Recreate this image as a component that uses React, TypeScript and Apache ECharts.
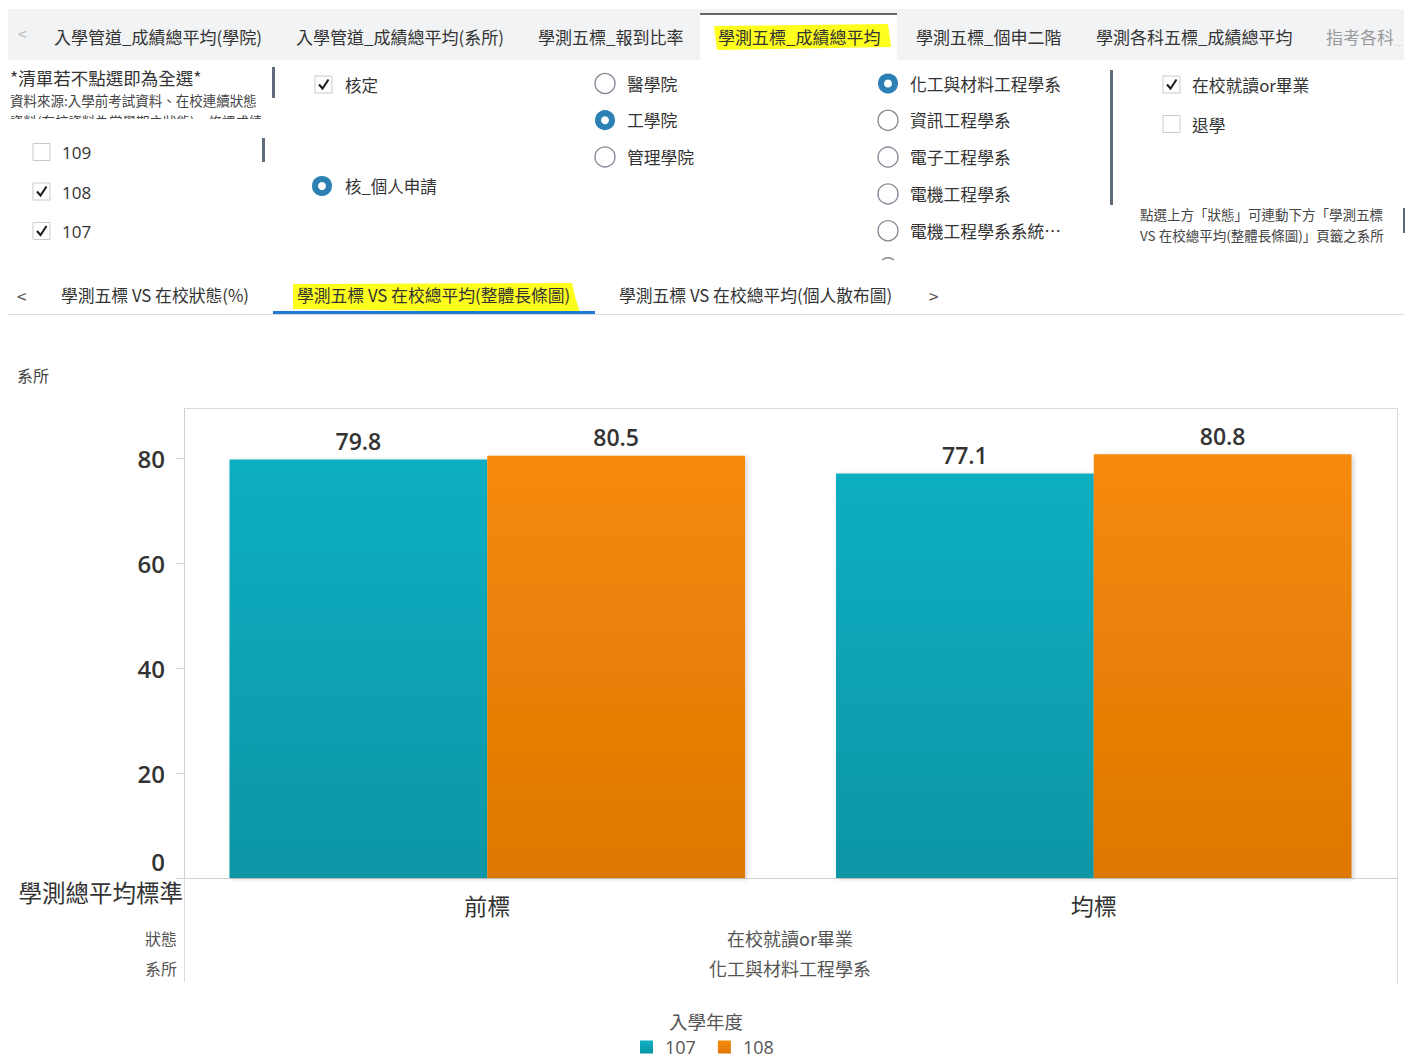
import React, { useEffect, useRef } from "react";
import * as echarts from "echarts";

// ---------- data ----------
const categories = ["前標", "均標"];
const seriesNames = ["107", "108"];
const values107 = [79.8, 77.1];
const values108 = [80.5, 80.8];
const yTicks = [0, 20, 40, 60, 80];

const topTabs = [
  "入學管道_成績總平均(學院)",
  "入學管道_成績總平均(系所)",
  "學測五標_報到比率",
  "學測五標_成績總平均",
  "學測五標_個申二階",
  "學測各科五標_成績總平均",
  "指考各科_",
];
const subTabs = [
  "學測五標 VS 在校狀態(%)",
  "學測五標 VS 在校總平均(整體長條圖)",
  "學測五標 VS 在校總平均(個人散布圖)",
];
const yearOptions = ["109", "108", "107"];
const yearChecked = [false, true, true];
const colleges = ["醫學院", "工學院", "管理學院"];
const collegeSelected = 1;
const departments = ["化工與材料工程學系", "資訊工程學系", "電子工程學系", "電機工程學系", "電機工程學系系統⋯"];
const departmentSelected = 0;
const statuses = ["在校就讀or畢業", "退學"];
const statusChecked = [true, false];
const headerRowNames = ["狀態", "系所"];
const headerRowValues = ["在校就讀or畢業", "化工與材料工程學系"];

const FONT = '"Noto Sans CJK TC", "Noto Sans", sans-serif';
const NUMFONT = '"Open Sans", "Noto Sans", sans-serif';

function txt(text: string, x: number, y: number, size: number, color: string, opts: any = {}) {
  return {
    type: "text",
    x,
    y,
    silent: true,
    z: opts.z ?? 20,
    style: {
      text,
      fontSize: size,
      fontFamily: opts.font ?? FONT,
      fontWeight: opts.weight ?? "normal",
      fill: color,
      align: opts.align ?? "left",
      verticalAlign: "middle",
    },
  };
}

function checkbox(x: number, y: number, checked: boolean) {
  const els: any[] = [
    { type: "rect", silent: true, z: 20, shape: { x, y, width: 17, height: 17 }, style: { fill: "#fff", stroke: "#C9C9C9", lineWidth: 1 } },
  ];
  if (checked) {
    els.push({
      type: "polyline",
      silent: true,
      z: 21,
      shape: { points: [[x + 4, y + 8.5], [x + 7.5, y + 12.5], [x + 13.5, y + 3.5]] },
      style: { stroke: "#1a1a1a", lineWidth: 2, fill: null },
    });
  }
  return els;
}

function radio(cx: number, cy: number, selected: boolean) {
  if (selected) {
    return [{ type: "circle", silent: true, z: 20, shape: { cx, cy, r: 7 }, style: { fill: "#fff", stroke: "#2C80B4", lineWidth: 6 } }];
  }
  return [{ type: "circle", silent: true, z: 20, shape: { cx, cy, r: 10 }, style: { fill: "#fff", stroke: "#7E8691", lineWidth: 1.3 } }];
}

function line(x1: number, y1: number, x2: number, y2: number, color: string, w = 1, z = 5) {
  return { type: "line", silent: true, z, shape: { x1, y1, x2, y2 }, style: { stroke: color, lineWidth: w } };
}

function buildGraphics() {
  const g: any[] = [];
  // top tab bar
  g.push({ type: "rect", silent: true, z: 1, shape: { x: 8, y: 9, width: 1396, height: 51 }, style: { fill: "#F2F3F5" } });
  g.push({ type: "rect", silent: true, z: 2, shape: { x: 700, y: 14, width: 197, height: 46 }, style: { fill: "#fff" } });
  g.push(line(700, 14, 897, 14, "#333", 1.5, 3));
  g.push({ type: "polygon", silent: true, z: 4, shape: { points: [[714, 26], [888, 24], [891, 47], [717, 50]] }, style: { fill: "#FFFF1E" } });
  g.push(txt("<", 18, 33, 16, "#bbb"));
  const tabX = [54, 296, 538, 718, 916, 1096, 1326];
  topTabs.forEach((t, i) => g.push(txt(t, tabX[i], 36, 17, i === 6 ? "#9a9a9a" : "#333")));
  g.push({ type: "rect", silent: true, z: 25, shape: { x: 1393, y: 20, width: 11, height: 36 }, style: { fill: "#F2F3F5", opacity: 0.8 } });

  // filter panel
  g.push(txt("*清單若不點選即為全選*", 10, 77, 17.5, "#333"));
  g.push(txt("資料來源:入學前考試資料、在校連續狀態", 10, 100, 13.5, "#444"));
  g.push(txt("資料(在校資料為當學期之狀態)、修課成績", 10, 121, 13.5, "#444"));
  g.push({ type: "rect", silent: true, z: 30, shape: { x: 0, y: 119, width: 268, height: 14 }, style: { fill: "#fff" } });
  g.push({ type: "rect", silent: true, z: 30, shape: { x: 272, y: 67, width: 3, height: 31 }, style: { fill: "#5F6B7A" } });
  g.push({ type: "rect", silent: true, z: 30, shape: { x: 262, y: 138, width: 3, height: 24 }, style: { fill: "#5F6B7A" } });
  g.push({ type: "rect", silent: true, z: 30, shape: { x: 1110, y: 70, width: 3, height: 135 }, style: { fill: "#5F6B7A" } });
  g.push({ type: "rect", silent: true, z: 30, shape: { x: 1403, y: 208, width: 2, height: 25 }, style: { fill: "#5F6B7A" } });

  yearOptions.forEach((y, i) => {
    const cy = 152.5 + i * 39.5;
    g.push(...checkbox(33, cy - 9, yearChecked[i]));
    g.push(txt(y, 62, cy, 17, "#333", { font: NUMFONT }));
  });

  g.push(...checkbox(315, 76, true));
  g.push(txt("核定", 345, 85, 16.5, "#333"));
  g.push(...radio(322, 186, true));
  g.push(txt("核_個人申請", 345, 186, 16.5, "#333"));

  colleges.forEach((c, i) => {
    const cy = 83.5 + i * 36.7;
    g.push(...radio(605, cy, i === collegeSelected));
    g.push(txt(c, 627, cy, 16.8, "#333"));
  });
  departments.forEach((d, i) => {
    const cy = 83.5 + i * 36.8;
    g.push(...radio(888, cy, i === departmentSelected));
    g.push(txt(d, 910, cy, 16.8, "#333"));
  });
  g.push({ type: "arc", silent: true, z: 20, shape: { cx: 888, cy: 268, r: 10, startAngle: -2.2, endAngle: -0.95 }, style: { stroke: "#7E8691", lineWidth: 1.3, fill: null } });

  statuses.forEach((s, i) => {
    const cy = 85 + i * 39.5;
    g.push(...checkbox(1163, cy - 9, statusChecked[i]));
    g.push(txt(s, 1192, cy, 16.8, "#333"));
  });
  g.push(txt("點選上方「狀態」可連動下方「學測五標", 1140, 214, 13.5, "#444"));
  g.push(txt("VS 在校總平均(整體長條圖)」頁籤之系所", 1140, 235, 13.5, "#444"));

  // second tab row
  g.push({ type: "polygon", silent: true, z: 4, shape: { points: [[293, 284], [572, 283], [576, 300], [580, 312], [572, 313], [293, 309]] }, style: { fill: "#FFFF1E" } });
  g.push(txt("<", 17, 295, 17, "#555"));
  const subX = [61, 297, 619];
  subTabs.forEach((t, i) => g.push(txt(t, subX[i], 295, 16.8, "#333")));
  g.push(txt(">", 929, 295, 17, "#555"));
  g.push(line(8, 314.5, 1404, 314.5, "#DADADA", 1, 5));
  g.push({ type: "rect", silent: true, z: 6, shape: { x: 273, y: 311, width: 322, height: 3 }, style: { fill: "#1E7BD3" } });

  // chart frame & headers
  g.push(txt("系所", 17, 375, 16, "#444"));
  g.push(line(184, 408.5, 1397, 408.5, "#DADADA", 1, 1));
  g.push(line(1397.5, 408, 1397.5, 985, "#DADADA", 1, 1));
  g.push(line(184.5, 878, 184.5, 982, "#DADADA", 1, 1));
  g.push(txt("學測總平均標準", 183, 892, 23.5, "#333", { align: "right" }));
  headerRowNames.forEach((h, i) => g.push(txt(h, 177, 938 + i * 30, 16, "#555", { align: "right" })));
  headerRowValues.forEach((h, i) => g.push(txt(h, 790, 938 + i * 30, 18, "#555", { align: "center" })));
  g.push(txt("入學年度", 706, 1021, 18.5, "#555", { align: "center" }));
  return g;
}

const tealGrad = new echarts.graphic.LinearGradient(0, 0, 0, 1, [
  { offset: 0, color: "#11AEC2" },
  { offset: 1, color: "#0896A5" },
]);
const orangeGrad = new echarts.graphic.LinearGradient(0, 0, 0, 1, [
  { offset: 0, color: "#F68A0B" },
  { offset: 1, color: "#DD7703" },
]);

export default function App() {
  const ref = useRef<HTMLDivElement>(null);
  useEffect(() => {
    if (!ref.current) return;
    const chart = echarts.init(ref.current, null, { renderer: "svg" });
    const labelStyle = {
      show: true,
      position: "top",
      distance: 7,
      fontSize: 23,
      fontFamily: NUMFONT,
      fontWeight: 600,
      color: "#333",
      formatter: (p: any) => Number(p.value).toFixed(1),
    };
    chart.setOption({
      animation: false,
      backgroundColor: "#fff",
      grid: { left: 184, right: 11, top: 408, bottom: 181, containLabel: false, outerBoundsMode: "none" },
      xAxis: {
        type: "category",
        data: categories,
        axisLine: { lineStyle: { color: "#D0D0D0" } },
        axisTick: { alignWithLabel: true, length: 10, lineStyle: { color: "#D0D0D0" } },
        axisLabel: { fontSize: 23, color: "#333", fontFamily: FONT, margin: 15 },
      },
      yAxis: {
        type: "value",
        min: 0,
        max: 89.6,
        interval: 20,
        splitLine: { show: false },
        axisLine: { show: true, lineStyle: { color: "#D0D0D0" } },
        axisTick: { show: true, length: 8, lineStyle: { color: "#D0D0D0" }, customValues: yTicks },
        axisLabel: {
          customValues: yTicks,
          margin: 19,
          fontSize: 24,
          fontFamily: NUMFONT,
          fontWeight: 600,
          color: "#333",
          formatter: (v: number) => (v === 0 ? "{z|0}" : "{n|" + v + "}"),
          rich: {
            n: { fontSize: 24, fontFamily: NUMFONT, fontWeight: 600, color: "#333" },
            z: { fontSize: 24, fontFamily: NUMFONT, fontWeight: 600, color: "#333", padding: [0, 0, 34, 0] },
          },
        },
      },
      legend: {
        data: seriesNames,
        left: 640,
        top: 1037,
        padding: 0,
        icon: "rect",
        itemWidth: 13,
        itemHeight: 13,
        itemGap: 22,
        textStyle: { fontSize: 18, lineHeight: 20, color: "#555", fontFamily: NUMFONT, padding: [0, 0, 0, 7] },
      },
      series: [
        {
          name: seriesNames[0],
          type: "bar",
          data: values107,
          barGap: "0%",
          barCategoryGap: "15%",
          itemStyle: { color: tealGrad, shadowBlur: 4, shadowColor: "rgba(0,0,0,0.18)", shadowOffsetX: 2, shadowOffsetY: 1 },
          label: labelStyle,
        },
        {
          name: seriesNames[1],
          type: "bar",
          data: values108,
          barGap: "0%",
          barCategoryGap: "15%",
          itemStyle: { color: orangeGrad, shadowBlur: 4, shadowColor: "rgba(0,0,0,0.18)", shadowOffsetX: 2, shadowOffsetY: 1 },
          label: labelStyle,
        },
      ],
      graphic: { elements: buildGraphics() },
    });
    return () => chart.dispose();
  }, []);
  return (
    <div
      ref={ref}
      style={{ position: "absolute", left: 0, top: 0, width: 1408, height: 1059, background: "#fff" }}
    />
  );
}
